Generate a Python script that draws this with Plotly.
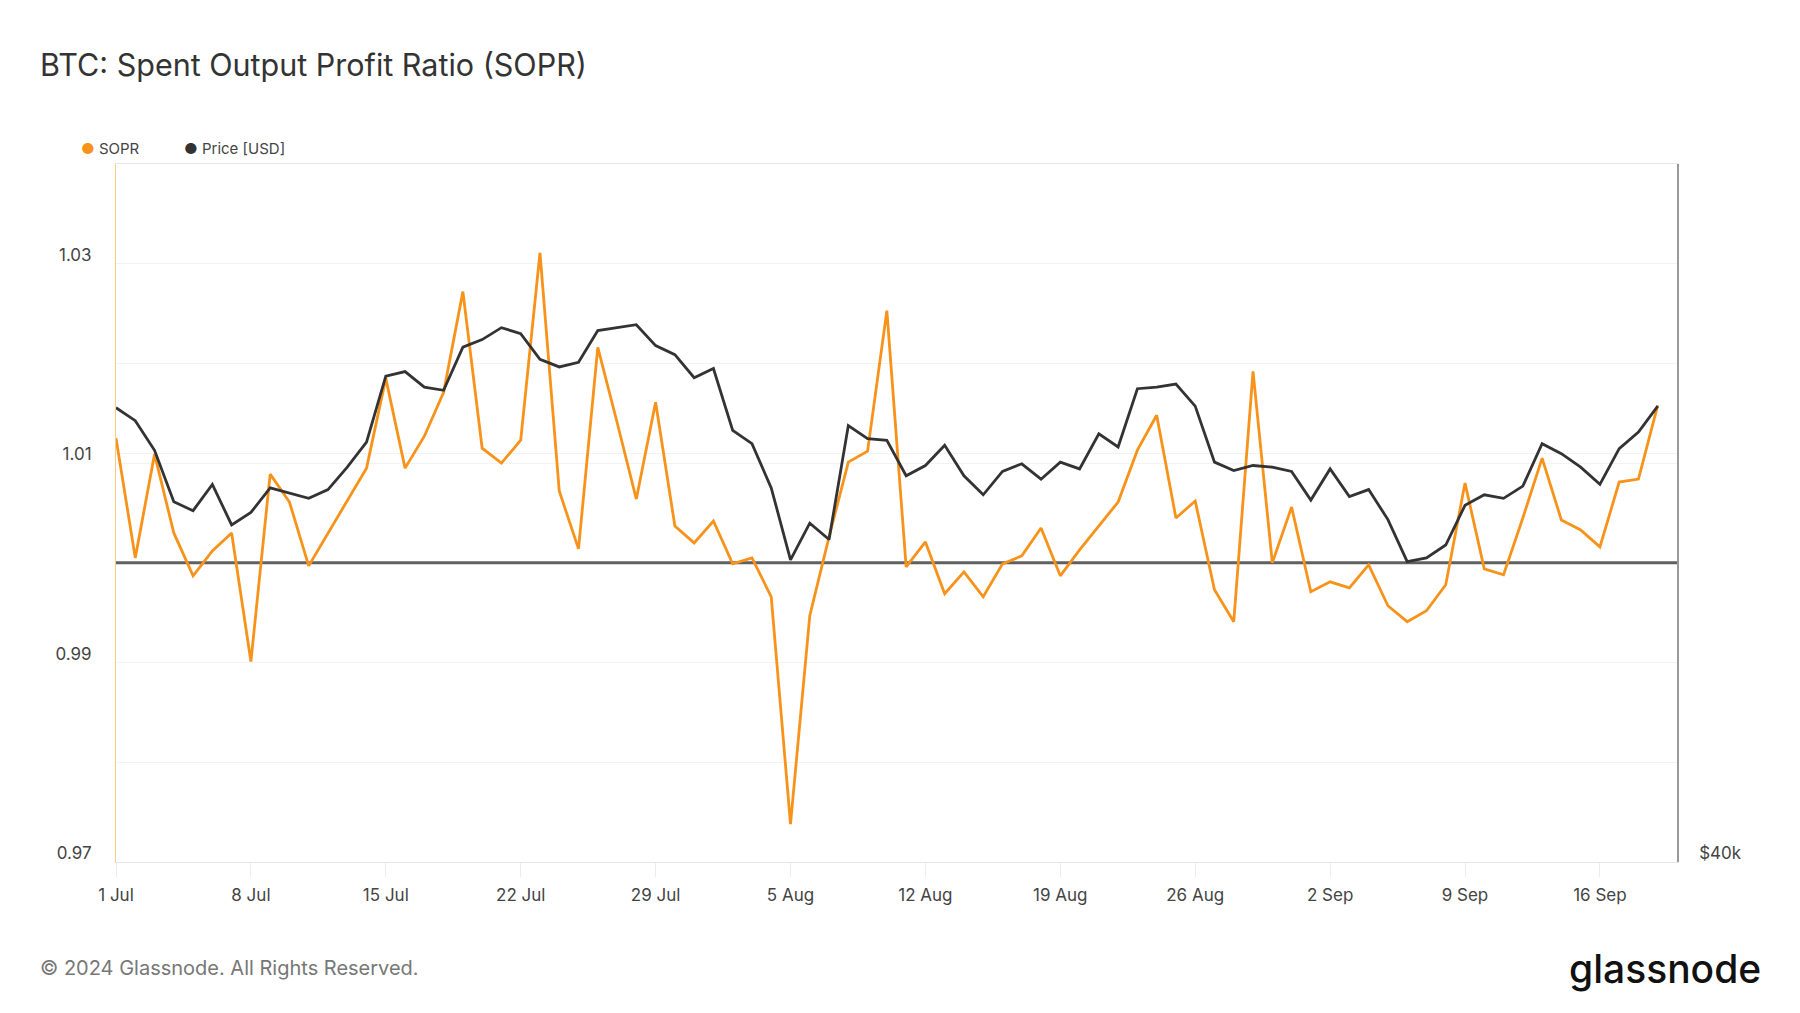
import pandas as pd
import plotly.graph_objects as go

start_date = "2024-07-01"
end_date = "2024-09-20"

sopr = [
    1.0125, 1.0005, 1.0109, 1.0030, 0.9987, 1.0012, 1.0030, 0.9901, 1.0089, 1.0061,
    0.9997, 1.0030, 1.0063, 1.0095, 1.0185, 1.0095, 1.0127, 1.0171, 1.0272, 1.0115,
    1.0100, 1.0123, 1.0311, 1.0072, 1.0014, 1.0216, 1.0141, 1.0064, 1.0161, 1.0037,
    1.0020, 1.0042, 0.9999, 1.0005, 0.9966, 0.9738, 0.9947, 1.0026, 1.0101, 1.0112,
    1.0253, 0.9996, 1.0021, 0.9969, 0.9991, 0.9966, 0.9999, 1.0007, 1.0035, 0.9987,
    1.0013, 1.0037, 1.0061, 1.0113, 1.0148, 1.0045, 1.0062, 0.9973, 0.9941, 1.0192,
    1.0000, 1.0056, 0.9971, 0.9981, 0.9975, 0.9998, 0.9957, 0.9941, 0.9952, 0.9978,
    1.0080, 0.9994, 0.9988, 1.0045, 1.0105, 1.0043, 1.0033, 1.0016, 1.0081, 1.0084,
    1.0158,
]

price = [
    62800, 62000, 60200, 57200, 56700, 58200, 55900, 56600, 58000, 57700,
    57400, 57900, 59200, 60700, 64800, 65100, 64100, 63900, 66700, 67200,
    68000, 67600, 65900, 65400, 65700, 67800, 68000, 68200, 66800, 66200,
    64700, 65300, 61400, 60600, 58000, 54000, 56000, 55100, 61700, 60900,
    60800, 58700, 59300, 60500, 58700, 57600, 58950, 59400, 58500, 59500,
    59100, 61200, 60400, 64000, 64100, 64300, 62900, 59500, 59000, 59300,
    59200, 58950, 57300, 59100, 57500, 57900, 56200, 53900, 54100, 54800,
    57000, 57600, 57400, 58100, 60600, 60000, 59200, 58200, 60300, 61300,
    62900,
]

dates = pd.date_range(start_date, periods=len(sopr), freq="D")
x_tick_dates = pd.date_range(start_date, "2024-09-16", freq="7D")
x_tick_labels = [f"{d.day} {d.strftime('%b')}" for d in x_tick_dates]

sopr_ticks = [0.97, 0.99, 1.01, 1.03]
sopr_minor_grid = [0.98, 1.02, 1.04]
price_ticks = [40000, 60000]
price_tick_labels = ["$40k", ""]

ORANGE = "#F7931A"
DARK = "#333333"
FONT = "Inter"

# page offset of the figure inside the html body (default body margin)
OFF = 8
L, R, T, B = 116 - OFF, 1800 - (1677 - OFF), 164 - OFF, 1013 - (862 - OFF)
PW = 1800 - L - R
PH = 1013 - T - B


def px(xw):
    return (xw - OFF - L) / PW


def py(yw):
    return 1 - (yw - OFF - T) / PH


fig = go.Figure()

fig.add_trace(go.Scatter(
    x=dates, y=price, name="Price [USD]", mode="lines",
    line=dict(color=DARK, width=2.8), yaxis="y2", hoverinfo="skip",
))
fig.add_trace(go.Scatter(
    x=dates, y=sopr, name="SOPR", mode="lines",
    line=dict(color=ORANGE, width=2.8), yaxis="y", hoverinfo="skip",
))

fig.add_shape(type="line", xref="paper", x0=0, x1=1, yref="y", y0=1.0, y1=1.0,
              line=dict(color="#606060", width=3), layer="below")

fig.update_layout(
    width=1800, height=1013,
    paper_bgcolor="white", plot_bgcolor="white",
    margin=dict(l=L, r=R, t=T, b=B),
    showlegend=False,
    font=dict(family=FONT, color="#444444"),
    xaxis=dict(
        type="date", range=[start_date, end_date],
        tickvals=x_tick_dates, ticktext=x_tick_labels,
        tickfont=dict(size=17, color="#444444"),
        showgrid=False, zeroline=False,
        showline=True, linecolor="#e6e6e6", linewidth=1, mirror=True,
        ticks="outside", ticklen=14, tickcolor="#ececec", tickwidth=1,
        ticklabelstandoff=4,
    ),
    yaxis=dict(
        range=[0.97, 1.04], tickvals=sopr_ticks, ticktext=[f"{v:.2f}" for v in sopr_ticks],
        tickfont=dict(size=17, color="#444444"),
        showgrid=True, gridcolor="#f2f2f2", gridwidth=1,
        minor=dict(tickvals=sopr_minor_grid, showgrid=True, gridcolor="#f2f2f2", gridwidth=1),
        zeroline=False, showline=True, linecolor="#fbc98a", linewidth=1,
        ticklabelshift=-9, ticklabelstandoff=20,
    ),
    yaxis2=dict(
        type="log", overlaying="y", side="right",
        range=[4.60206, 4.90309],
        tickvals=price_ticks, ticktext=price_tick_labels,
        tickfont=dict(size=17, color="#444444"),
        showgrid=True, gridcolor="#f2f2f2", gridwidth=1,
        zeroline=False, showline=True, linecolor="#9a9a9a", linewidth=1.5,
        ticklabelshift=-9, ticklabelstandoff=17,
    ),
)

# Title
fig.add_annotation(text="BTC: Spent Output Profit Ratio (SOPR)", xref="paper", yref="paper",
                   x=px(38), y=py(64), xanchor="left", yanchor="middle",
                   showarrow=False, font=dict(family=FONT, size=30.5, color="#333333"))
# Legend
fig.add_annotation(text=f"<span style='color:{ORANGE}'>●</span> SOPR", xref="paper", yref="paper",
                   x=px(79), y=py(149), xanchor="left", yanchor="middle",
                   showarrow=False, font=dict(family=FONT, size=15, color="#444444"))
fig.add_annotation(text=f"<span style='color:{DARK}'>●</span> Price [USD]", xref="paper", yref="paper",
                   x=px(182), y=py(149), xanchor="left", yanchor="middle",
                   showarrow=False, font=dict(family=FONT, size=15, color="#444444"))
# Footer
fig.add_annotation(text="© 2024 Glassnode. All Rights Reserved.", xref="paper", yref="paper",
                   x=px(38), y=py(968), xanchor="left", yanchor="middle",
                   showarrow=False, font=dict(family=FONT, size=20, color="#777777"))
fig.add_annotation(text="glassnode", xref="paper", yref="paper",
                   x=px(1763), y=py(968), xanchor="right", yanchor="middle",
                   showarrow=False, font=dict(family=FONT, size=39, weight=500, color="#111111"))

fig.write_html("out.html")
